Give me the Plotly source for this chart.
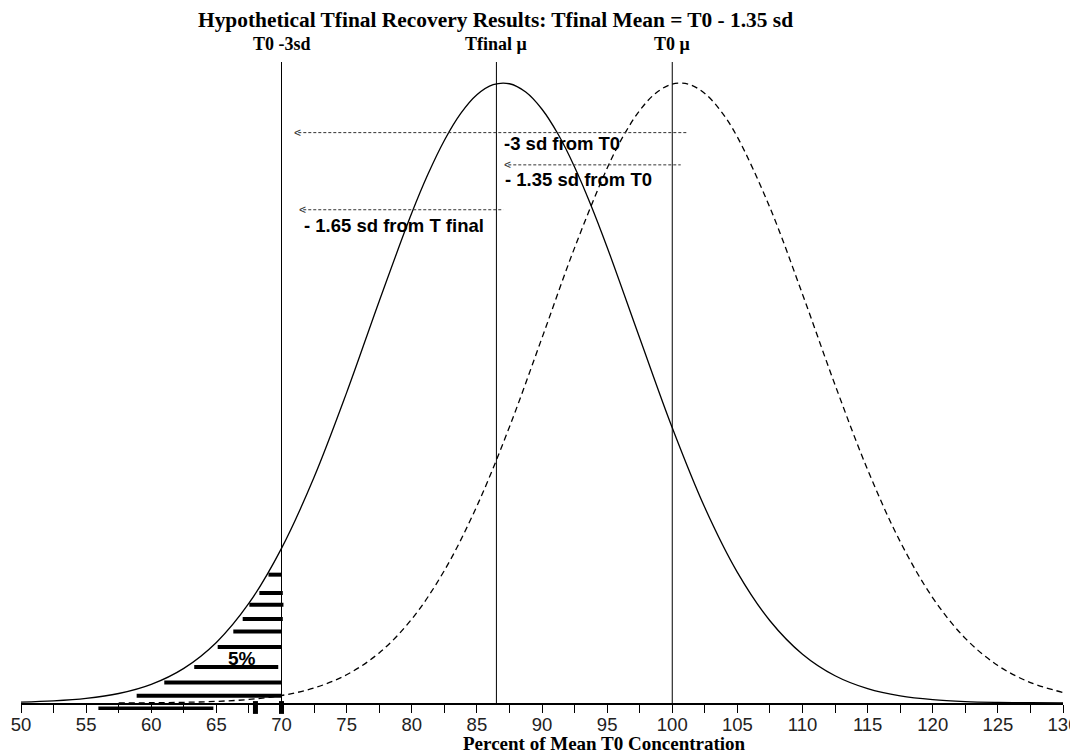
import plotly.graph_objects as go

# ---- data ----
# Tfinal distribution (solid), relative height (peak = 1)
tfinal_x = [50, 52.5, 55, 57.5, 60, 62.5, 65, 67.5, 70, 72.5, 75, 77.5, 80, 81.25, 82.5, 83.75,
            85, 86.25, 87.5, 88.75, 90, 91.25, 92.5, 93.75, 95, 97.5, 100, 102.5, 105, 107.5,
            110, 112.5, 115, 117.5, 120, 122.5, 125, 127.5, 130]
tfinal_y = [0.0014, 0.0033, 0.0073, 0.0153, 0.0301, 0.0559, 0.0977, 0.1609, 0.2494, 0.3641,
            0.5006, 0.6481, 0.7902, 0.8531, 0.9073, 0.9505, 0.9810, 0.9973, 0.9988, 0.9854,
            0.9577, 0.9169, 0.8647, 0.8034, 0.7352, 0.5887, 0.4439, 0.3152, 0.2108, 0.1327,
            0.0787, 0.0439, 0.0231, 0.0114, 0.0053, 0.0023, 0.0010, 0.0004, 0.0001]

# T0 distribution (dashed)
t0_x = [57.5, 60, 62.5, 65, 67.5, 70, 72.5, 75, 77.5, 80, 82.5, 85, 87.5, 90, 92.5, 95, 96.25,
        97.5, 98.75, 100, 101.25, 102.5, 103.75, 105, 107.5, 110, 112.5, 115, 117.5, 120,
        122.5, 125, 127.5, 130]
t0_y = [0.0002, 0.0004, 0.0011, 0.0026, 0.0057, 0.0121, 0.0242, 0.0456, 0.0808, 0.1353,
        0.2135, 0.3176, 0.4453, 0.5889, 0.7341, 0.8626, 0.9147, 0.9557, 0.9840, 0.9983,
        0.9980, 0.9831, 0.9543, 0.9128, 0.7990, 0.6594, 0.5131, 0.3763, 0.2603, 0.1697,
        0.1043, 0.0604, 0.0330, 0.0170]

# reference lines
vline_x = [70, 86.5, 100]
vline_labels = ["T0 -3sd", "Tfinal \u03bc", "T0 \u03bc"]

# horizontal hatch bars of the 5% tail
hatch_y = [0.207, 0.1774, 0.1585, 0.1355, 0.1155, 0.0903, 0.0581, 0.0332, 0.0118]
hatch_left = [69.0, 68.3, 67.53, 67.02, 66.3, 65.1, 63.3, 61.0, 58.88]
hatch_right = [70.0, 70.1, 70.15, 70.1, 70.0, 70.0, 69.75, 70.0, 70.0]

# arrows
arrow_tail = [101.2, 100.65, 87.03]
arrow_tip = [71.04, 87.16, 71.42]
arrow_y = [0.920, 0.868, 0.7956]
arrow_text = ["-3 sd from T0", "- 1.35 sd from T0", "- 1.65 sd from T final"]
arrow_text_x = [86.9, 87.0, 71.57]
arrow_text_y = [0.903, 0.844, 0.770]

title_text = "Hypothetical Tfinal Recovery Results: Tfinal Mean = T0 - 1.35 sd"
xaxis_title = "Percent of Mean T0 Concentration"

# below-axis marks
under_bar = [55.94, 64.77]
under_blobs = [68.0, 70.0]

fig = go.Figure()

fig.add_trace(go.Scatter(x=tfinal_x, y=tfinal_y, mode="lines", line_shape="spline",
                         line=dict(color="black", width=1.3), hoverinfo="skip", showlegend=False))
fig.add_trace(go.Scatter(x=t0_x, y=t0_y, mode="lines", line_shape="spline",
                         line=dict(color="black", width=1.3, dash="6px,4px"),
                         hoverinfo="skip", showlegend=False))

hx, hy = [], []
for yv, xl, xr in zip(hatch_y, hatch_left, hatch_right):
    hx += [xl, xr, None]
    hy += [yv, yv, None]
fig.add_trace(go.Scatter(x=hx, y=hy, mode="lines", line=dict(color="black", width=4),
                         hoverinfo="skip", showlegend=False))

shapes = []
for xv in vline_x:
    shapes.append(dict(type="line", xref="x", yref="paper", x0=xv, x1=xv, y0=0, y1=1,
                       line=dict(color="black", width=1)))
for xt, xh, yv in zip(arrow_tail, arrow_tip, arrow_y):
    shapes.append(dict(type="line", xref="x", yref="y", x0=xh + 0.25, x1=xt, y0=yv, y1=yv,
                       line=dict(color="#333", width=1, dash="3px,2px")))
shapes.append(dict(type="line", xref="x", yref="paper", x0=under_bar[0], x1=under_bar[1],
                   y0=-0.0083, y1=-0.0083, line=dict(color="black", width=3.5)))
for bx in under_blobs:
    shapes.append(dict(type="line", xref="x", yref="paper", x0=bx, x1=bx,
                       y0=0.003, y1=-0.017, line=dict(color="black", width=5)))

annotations = []
annotations.append(dict(text=title_text, xref="paper", yref="paper", x=0.455, y=1.0655,
                        showarrow=False, xanchor="center", yanchor="middle",
                        font=dict(family="Liberation Serif", size=21.4, color="black", weight="bold")))
for xv, lab in zip(vline_x, vline_labels):
    annotations.append(dict(text=lab, xref="x", yref="paper", x=xv, y=1.028, showarrow=False,
                            xanchor="center", yanchor="middle",
                            font=dict(family="Liberation Serif", size=18, color="black", weight="bold")))
for xh, yv in zip(arrow_tip, arrow_y):
    annotations.append(dict(text="<", xref="x", yref="y", x=xh, y=yv, showarrow=False,
                            xanchor="left", yanchor="middle", xshift=-3,
                            font=dict(family="Liberation Sans", size=12, color="#333")))
for tx, ty, tt in zip(arrow_text_x, arrow_text_y, arrow_text):
    annotations.append(dict(text=tt, xref="x", yref="y", x=tx, y=ty, showarrow=False,
                            xanchor="left", yanchor="middle",
                            font=dict(family="Liberation Sans", size=18.5, color="black", weight="bold")))
annotations.append(dict(text="5%", xref="x", yref="y", x=66.94, y=0.0715, showarrow=False,
                        xanchor="center", yanchor="middle",
                        font=dict(family="Liberation Sans", size=19, color="black", weight="bold")))
annotations.append(dict(text=xaxis_title, xref="x", yref="paper", x=94.76, y=-0.063,
                        showarrow=False, xanchor="center", yanchor="middle",
                        font=dict(family="Liberation Serif", size=19, color="black", weight="bold")))

# The page body has an 8px default margin; compensate so the plot lands in place.
fig.update_layout(
    width=1078, height=746,
    margin=dict(l=13, r=23, t=54, b=51, autoexpand=False),
    paper_bgcolor="white", plot_bgcolor="white",
    shapes=shapes, annotations=annotations,
    xaxis=dict(range=[50, 130], showgrid=False, zeroline=False, showline=True,
               linecolor="black", linewidth=1.5, ticks="outside", ticklen=8, tickwidth=1,
               tickcolor="black", tick0=50, dtick=5, automargin=False, ticklabelstandoff=-4,
               ticklabeloverflow="allow",
               minor=dict(dtick=2.5, ticks="outside", ticklen=8, tickwidth=1, tickcolor="black"),
               tickfont=dict(family="Liberation Sans", size=18.5, color="#222"), fixedrange=True),
    yaxis=dict(range=[0, 1.0339], visible=False, fixedrange=True),
)

fig.write_html("out.html")
